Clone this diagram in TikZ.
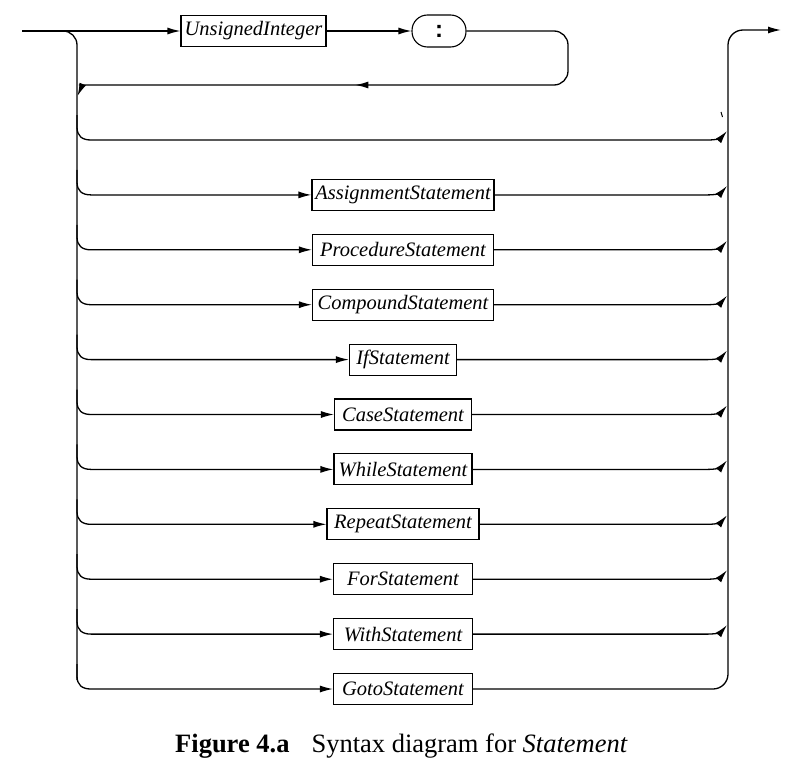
\documentclass[tikz,border=0pt]{standalone}
\usepackage{fontspec}
\newfontfamily\capfont{Liberation Serif}
\newfontfamily\colfont{Liberation Sans}
\usetikzlibrary{arrows.meta,decorations.markings}
\tikzset{
  line/.style={line width=1.3pt},
  arr/.style={-{Latex[length=13pt,width=7pt]}},
  ntbox/.style={draw, line width=1.1pt, minimum height=31pt, inner sep=0pt,
    font=\capfont\fontsize{20.5}{22}\selectfont\itshape},
}
\begin{document}
\begin{tikzpicture}[x=1pt,y=-1pt]
\useasboundingbox (0,0) rectangle (792,768);
\coordinate (in) at (22,31);
\coordinate (out) at (781,30);
\node[ntbox, minimum width=145pt] (ui) at (253.5,31) {UnsignedInteger};
\node[draw, line width=1.1pt, rounded corners=15.5pt, minimum width=54pt,
  minimum height=32pt, inner sep=0pt] (colon) at (439,31)
  {\colfont\fontsize{24}{24}\selectfont\bfseries :};
\draw[line,arr] (in) -- (ui.west);
\draw[line,arr] (ui.east) -- (colon.west);
% left rail
\draw[line, rounded corners=14pt] (40,31) -| (77,680);
% loop back
\draw[line, arr, rounded corners=14pt,
  decoration={markings, mark=at position 0.55 with {\arrow{Latex[length=13pt,width=7pt]}}},
  postaction={decorate}]
  (colon.east) -| (568,85) -- (93,85) .. controls (86,85) and (81,88) .. (77.5,96);
% empty branch
\draw[line,arr] (77,115) -- (77,127) .. controls (77,136) and (82,140) .. (91,140)
  -- (708,140) .. controls (716,140) and (721,138) .. (727,131);
\draw[line width=1pt] (721,112) -- (722.5,117);
% branches
\foreach \nm/\lb/\w [count=\k] in {asg/AssignmentStatement/182, prc/ProcedureStatement/181,
   cmp/CompoundStatement/181, ifs/IfStatement/107, cas/CaseStatement/137,
   whl/WhileStatement/138, rpt/RepeatStatement/152, fors/ForStatement/139,
   wth/WithStatement/139, gto/GotoStatement/139}{
  \pgfmathsetmacro\yy{140+\k*54.9}
  \node[ntbox, minimum width=\w pt] (\nm) at (403,\yy) {\lb};
  \draw[line,arr] (77,\yy-25) -- (77,\yy-13) .. controls (77,\yy-4) and (82,\yy) .. (91,\yy) -- (\nm.west);
  \ifnum\k<10
    \draw[line,arr] (\nm.east) -- (708,\yy) .. controls (716,\yy) and (721,\yy-2) .. (727,\yy-9);
  \fi
}
% right rail
\draw[line, arr, rounded corners=15pt] (gto.east) -| (728,30) -- (out);
% caption
\node[anchor=base west, inner sep=0pt, font=\capfont\fontsize{26.5}{30}\selectfont] (cap) at (175,752)
  {\textbf{Figure 4.a}\hspace{22pt}Syntax diagram for \textit{Statement}};
\end{tikzpicture}
\end{document}
